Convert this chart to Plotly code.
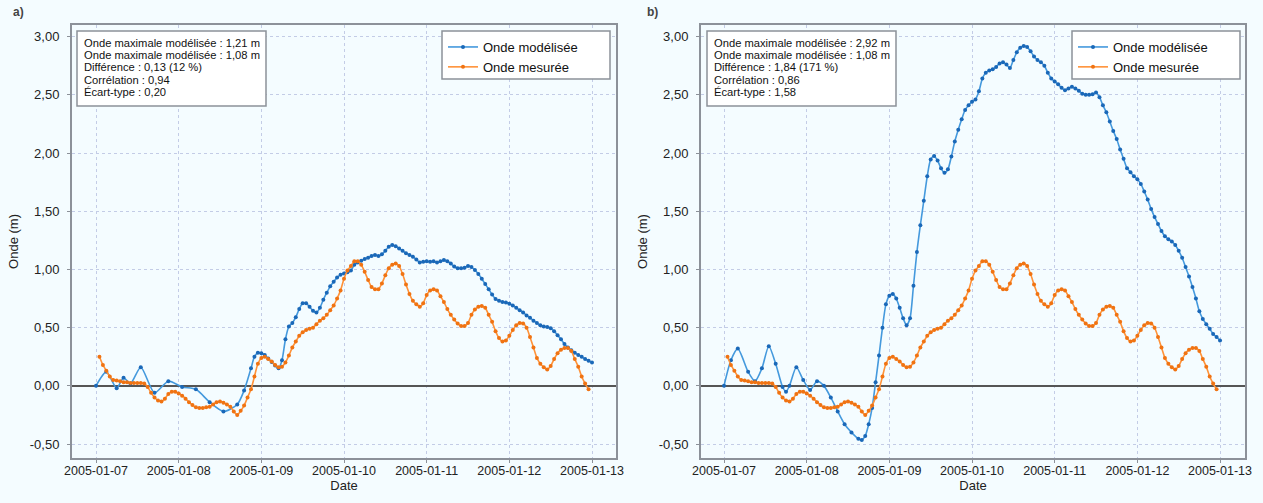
import pandas as pd
import plotly.graph_objects as go

BASE = pd.Timestamp("2005-01-07 00:00")

# ---------------- data ----------------
# Measured surge (same series in both panels), hourly from 2005-01-07 01:00
measured_values = [
    0.25, 0.18, 0.13, 0.08, 0.05, 0.045, 0.04, 0.03, 0.03, 0.025,
    0.025, 0.025, 0.025, 0.02, -0.01, -0.06, -0.10, -0.125, -0.135, -0.11,
    -0.07, -0.05, -0.05, -0.065, -0.085, -0.11, -0.14, -0.165, -0.185, -0.19,
    -0.19, -0.185, -0.18, -0.16, -0.14, -0.135, -0.145, -0.16, -0.18, -0.22,
    -0.25, -0.215, -0.17, -0.10, -0.03, 0.08, 0.19, 0.24, 0.25, 0.23,
    0.21, 0.18, 0.16, 0.165, 0.20, 0.26, 0.33, 0.38, 0.43, 0.46,
    0.48, 0.49, 0.50, 0.53, 0.56, 0.58, 0.61, 0.65, 0.69, 0.75,
    0.82, 0.92, 0.99, 1.03, 1.07, 1.07, 1.04, 0.98, 0.91, 0.85,
    0.83, 0.83, 0.88, 0.95, 1.01, 1.04, 1.05, 1.03, 0.96, 0.87,
    0.79, 0.73, 0.70, 0.68, 0.71, 0.78, 0.82, 0.83, 0.82, 0.77,
    0.72, 0.66, 0.61, 0.57, 0.535, 0.515, 0.515, 0.54, 0.61, 0.655,
    0.68, 0.685, 0.67, 0.61, 0.55, 0.47, 0.41, 0.38, 0.39, 0.43,
    0.48, 0.52, 0.54, 0.535, 0.50, 0.42, 0.33, 0.24, 0.19, 0.16,
    0.14, 0.17, 0.23, 0.28, 0.31, 0.325, 0.325, 0.30, 0.23, 0.165,
    0.08, 0.02, -0.03,
]
measured_hours = list(range(1, 1 + len(measured_values)))

# Modelled surge, panel a)
model_a_early_hours = [0, 3, 6, 8, 10, 13, 17, 21, 25, 29, 33, 37, 41, 43, 45]
model_a_early_values = [0.0, 0.12, -0.02, 0.07, 0.02, 0.16, -0.06, 0.04, -0.01,
                        -0.03, -0.14, -0.22, -0.16, -0.04, 0.15]
model_a_late_values = [
    0.25, 0.285, 0.28, 0.265, 0.235, 0.205, 0.175, 0.15, 0.22, 0.40,
    0.51, 0.54, 0.59, 0.66, 0.71, 0.71, 0.68, 0.645, 0.63, 0.67,
    0.74, 0.80, 0.855, 0.895, 0.93, 0.955, 0.965, 0.975, 0.99, 1.04,
    1.06, 1.075, 1.09, 1.10, 1.115, 1.125, 1.115, 1.13, 1.16, 1.195,
    1.21, 1.20, 1.18, 1.16, 1.14, 1.125, 1.11, 1.085, 1.06, 1.065,
    1.07, 1.065, 1.07, 1.06, 1.07, 1.08, 1.07, 1.05, 1.025, 1.01,
    1.01, 1.015, 1.03, 1.02, 0.995, 0.96, 0.92, 0.875, 0.83, 0.785,
    0.745, 0.73, 0.72, 0.715, 0.705, 0.69, 0.67, 0.65, 0.63, 0.605,
    0.585, 0.56, 0.54, 0.52, 0.51, 0.505, 0.495, 0.47, 0.435, 0.40,
    0.36, 0.33, 0.305, 0.285, 0.265, 0.25, 0.23, 0.215, 0.20,
]
model_a_hours = model_a_early_hours + list(range(46, 46 + len(model_a_late_values)))
model_a_values = model_a_early_values + model_a_late_values

# Modelled surge, panel b)
model_b_early_hours = [0, 2, 4, 7, 9, 11, 13, 15, 17, 18, 19, 21, 23, 25, 27, 29,
                       31, 33, 35, 37, 39, 40, 41, 42, 43]
model_b_early_values = [0.0, 0.22, 0.32, 0.12, 0.04, 0.15, 0.34, 0.19, -0.01, -0.05,
                        0.0, 0.16, 0.05, -0.035, 0.04, 0.0, -0.10, -0.22, -0.33,
                        -0.40, -0.455, -0.465, -0.43, -0.33, -0.19]
model_b_late_values = [
    0.03, 0.26, 0.50, 0.70, 0.775, 0.79, 0.75, 0.67, 0.58, 0.52,
    0.58, 0.86, 1.15, 1.38, 1.59, 1.80, 1.945, 1.975, 1.935, 1.87,
    1.83, 1.86, 1.97, 2.10, 2.20, 2.29, 2.37, 2.41, 2.44, 2.46,
    2.53, 2.64, 2.69, 2.71, 2.72, 2.74, 2.77, 2.78, 2.76, 2.73,
    2.80, 2.865, 2.905, 2.92, 2.91, 2.875, 2.83, 2.80, 2.78, 2.75,
    2.69, 2.64, 2.615, 2.59, 2.56, 2.54, 2.555, 2.57, 2.555, 2.535,
    2.51, 2.50, 2.50, 2.505, 2.52, 2.48, 2.41, 2.35, 2.27, 2.19,
    2.12, 2.03, 1.95, 1.87, 1.835, 1.80, 1.775, 1.735, 1.67, 1.60,
    1.52, 1.45, 1.39, 1.33, 1.285, 1.26, 1.24, 1.21, 1.16, 1.10,
    1.02, 0.94, 0.85, 0.75, 0.64, 0.575, 0.53, 0.49, 0.445, 0.42,
    0.39,
]
model_b_hours = model_b_early_hours + list(range(44, 44 + len(model_b_late_values)))
model_b_values = model_b_early_values + model_b_late_values

x_tick_dates = ["2005-01-07", "2005-01-08", "2005-01-09", "2005-01-10",
                "2005-01-11", "2005-01-12", "2005-01-13"]
y_tick_values = [-0.5, 0.0, 0.5, 1.0, 1.5, 2.0, 2.5, 3.0]
y_tick_labels = ["-0,50", "0,00", "0,50", "1,00", "1,50", "2,00", "2,50", "3,00"]

stats_a = ["Onde maximale modélisée : 1,21 m", "Onde maximale modélisée : 1,08 m",
           "Différence : 0,13 (12 %)", "Corrélation : 0,94", "Écart-type : 0,20"]
stats_b = ["Onde maximale modélisée : 2,92 m", "Onde maximale modélisée : 1,08 m",
           "Différence : 1,84 (171 %)", "Corrélation : 0,86", "Écart-type : 1,58"]

NAME_MOD = "Onde modélisée"
NAME_MES = "Onde mesurée"

# ---------------- styling ----------------
FONT = "Liberation Sans, Arial, sans-serif"
BG = "#F4FCFF"
BLUE_LINE = "#4499dd"
BLUE_MARK = "#1a68b8"
ORANGE_LINE = "#ff9238"
ORANGE_MARK = "#f07312"
FRAME = "#8c9199"
GRID = "#c3cce6"

W, H = 1263, 503
ML, MR, MT, MB = 72, 18, 25, 45
PW = W - ML - MR
PH = H - MT - MB
PANEL_A = (72, 616)     # pixel extents of the plot frames
PANEL_B = (701, 1245)


def times(hours):
    return [BASE + pd.Timedelta(hours=h) for h in hours]


def px_x(px):
    return (px - ML) / PW


def px_y(py):
    return (H - MB - py) / PH


fig = go.Figure()

for xa, ya, leg, mh, mv in [("x", "y", "legend", model_a_hours, model_a_values),
                            ("x2", "y2", "legend2", model_b_hours, model_b_values)]:
    fig.add_trace(go.Scatter(
        x=times(mh), y=mv, name=NAME_MOD, mode="lines+markers",
        line=dict(color=BLUE_LINE, width=1.6, shape="spline", smoothing=0.7),
        marker=dict(color=BLUE_MARK, size=4),
        xaxis=xa, yaxis=ya, legend=leg))
    fig.add_trace(go.Scatter(
        x=times(measured_hours), y=measured_values, name=NAME_MES, mode="lines+markers",
        line=dict(color=ORANGE_LINE, width=1.6, shape="spline", smoothing=0.7),
        marker=dict(color=ORANGE_MARK, size=4),
        xaxis=xa, yaxis=ya, legend=leg))

xcommon = dict(tickvals=x_tick_dates, ticktext=x_tick_dates,
               showgrid=True, gridcolor=GRID, griddash="dot", gridwidth=1,
               showline=True, linecolor=FRAME, linewidth=2, mirror=True,
               ticks="outside", ticklen=3, tickcolor=FRAME,
               tickfont=dict(size=12.5, color="#222"), automargin=False,
               ticklabelstandoff=-3,
               title=dict(text="Date", font=dict(size=13, color="#222"), standoff=2),
               zeroline=False)
ycommon = dict(range=[-0.62, 3.10], tickvals=y_tick_values, ticktext=y_tick_labels,
               showgrid=True, gridcolor=GRID, griddash="dot", gridwidth=1,
               showline=True, linecolor=FRAME, linewidth=2, mirror=True,
               ticks="outside", ticklen=3, tickcolor=FRAME,
               tickfont=dict(size=13, color="#222"), automargin=False,
               ticklabelstandoff=5,
               title=dict(text="Onde (m)", font=dict(size=13, color="#222"), standoff=8),
               zeroline=True, zerolinecolor="#555555", zerolinewidth=2)

legcommon = dict(xanchor="left", yanchor="top", bgcolor="rgba(0,0,0,0)",
                 borderwidth=0, font=dict(size=13, color="#111"), itemwidth=30,
                 tracegroupgap=0)

fig.update_layout(
    width=W, height=H,
    margin=dict(l=ML, r=MR, t=MT, b=MB, autoexpand=False),
    paper_bgcolor=BG, plot_bgcolor=BG,
    font=dict(family=FONT, color="#222"),
    xaxis=dict(domain=[px_x(PANEL_A[0]), px_x(PANEL_A[1])], anchor="y",
               range=["2005-01-06 17:02", "2005-01-13 06:58"], **xcommon),
    yaxis=dict(domain=[0, 1], anchor="x", **ycommon),
    xaxis2=dict(domain=[px_x(PANEL_B[0]), px_x(PANEL_B[1])], anchor="y2",
                range=["2005-01-06 17:19", "2005-01-13 07:15"], **xcommon),
    yaxis2=dict(domain=[0, 1], anchor="x2", **ycommon),
    legend=dict(x=px_x(443), y=px_y(32), **legcommon),
    legend2=dict(x=px_x(1073), y=px_y(32), **legcommon),
)

# legend frames
for x0, x1 in [(442, 610), (1072, 1240)]:
    fig.add_shape(type="rect", xref="paper", yref="paper",
                  x0=px_x(x0), x1=px_x(x1), y0=px_y(79), y1=px_y(31),
                  line=dict(color=FRAME, width=1.5), fillcolor="white", layer="above")

# statistics boxes
for (x0, x1), stats in [((77, 266), stats_a), ((707, 896), stats_b)]:
    fig.add_shape(type="rect", xref="paper", yref="paper",
                  x0=px_x(x0), x1=px_x(x1), y0=px_y(106), y1=px_y(31),
                  line=dict(color=FRAME, width=1.5), fillcolor="white", layer="above")
    for i, line_text in enumerate(stats):
        fig.add_annotation(
            xref="paper", yref="paper", x=px_x(x0 + 5), y=px_y(42.5 + 12.4 * i),
            xanchor="left", yanchor="middle", text=line_text, showarrow=False,
            font=dict(size=11.2, color="#111"))

for label, px in [("a)", 18), ("b)", 652)]:
    fig.add_annotation(
        xref="paper", yref="paper", x=px_x(px), y=px_y(12),
        xanchor="center", yanchor="middle", text="<b>%s</b>" % label,
        showarrow=False, font=dict(size=12, color="#444"))

fig.write_html("out.html", config={"displayModeBar": False},
               post_script="document.body.style.margin='0px';")
